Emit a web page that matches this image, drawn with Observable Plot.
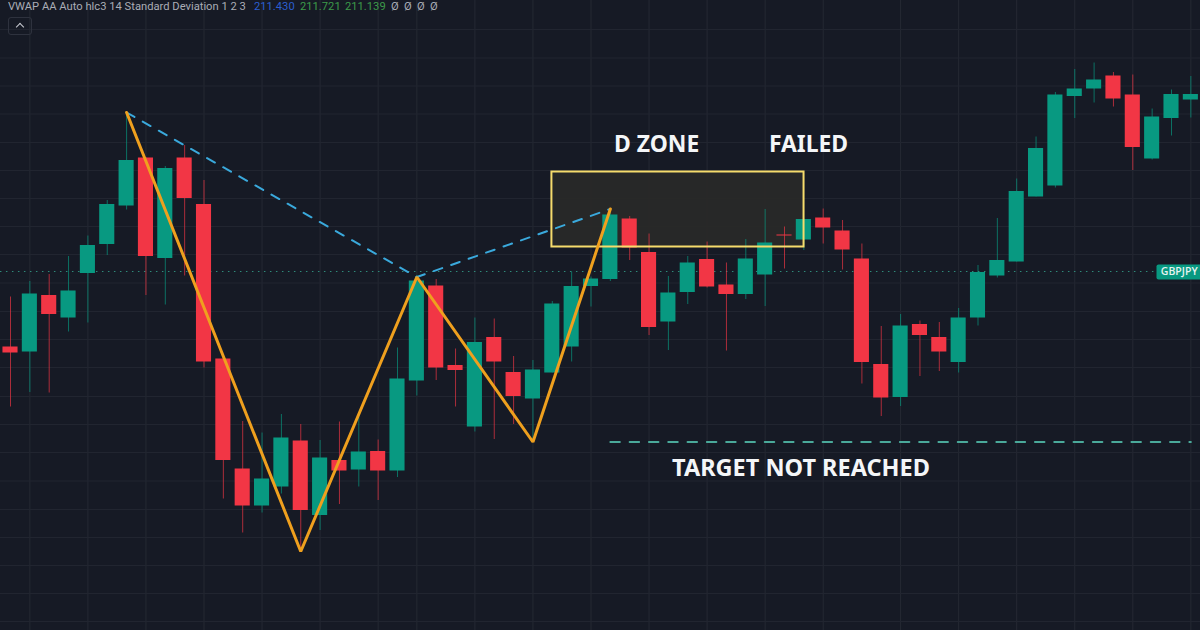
<!DOCTYPE html>
<html>
<head>
<meta charset="utf-8">
<script src="https://cdn.jsdelivr.net/npm/d3@7"></script>
<script src="https://cdn.jsdelivr.net/npm/@observablehq/plot@0.6"></script>
<style>
html,body{margin:0;padding:0;background:#161a25;overflow:hidden;width:1200px;height:630px}
#chart{position:relative;width:1200px;height:630px}
#chart svg{display:block}
.hd{position:absolute;top:0;font:11.2px Roboto,sans-serif;white-space:nowrap;line-height:normal;opacity:.95}
#btn{position:absolute;left:8px;top:17px;width:24px;height:18px;border:1px solid #2e323e;border-radius:3px;box-sizing:border-box}
#btn:after{content:"";position:absolute;left:8px;top:6px;width:5px;height:5px;border-left:1.5px solid #c8cbd2;border-top:1.5px solid #c8cbd2;transform:rotate(45deg)}
</style>
</head>
<body>
<div id="chart"></div>
<script>
const opens = [209.92,209.82,210.95,210.50,211.39,211.97,212.74,213.70,211.69,213.70,212.77,209.68,207.48,206.74,207.12,208.04,206.55,207.65,207.46,207.83,207.44,209.24,211.14,209.55,208.32,210.11,209.41,208.88,209.40,209.92,211.13,211.27,212.48,211.81,210.42,211.01,211.67,211.16,210.97,211.36,212.16,212.06,212.50,212.24,211.68,209.57,208.91,210.37,210.11,209.61,210.50,211.34,211.62,212.92,213.14,214.93,215.08,215.34,214.96,213.68,214.49,214.86];
const highs = [210.92,211.23,211.37,211.73,212.14,212.85,214.60,213.71,213.53,213.95,213.25,209.69,208.43,208.20,208.57,208.37,208.05,208.42,208.52,208.06,209.90,211.35,211.27,209.88,210.50,210.48,209.73,209.65,210.83,211.42,211.32,212.69,212.53,212.18,211.33,211.73,212.02,211.60,212.07,212.67,212.32,212.48,212.68,212.45,211.98,210.33,210.57,210.44,210.41,210.69,211.55,212.49,213.28,214.12,215.01,215.47,215.60,215.41,215.36,214.68,215.06,215.33];
const lows = [208.72,209.01,209.00,210.22,210.40,211.75,212.66,210.95,210.76,211.34,209.50,206.88,206.20,206.60,206.98,205.82,206.25,206.77,207.12,206.85,207.31,208.94,209.25,208.72,208.22,208.07,208.37,208.02,209.40,209.62,210.72,211.23,211.65,210.15,209.85,210.77,211.10,209.84,210.87,210.73,211.48,211.85,211.98,211.46,209.18,208.53,208.73,209.33,209.43,209.40,210.34,211.30,211.62,212.92,213.10,214.49,214.80,214.72,213.45,213.66,214.14,214.50];
const closes = [209.80,210.98,210.57,211.04,211.95,212.77,213.65,211.73,213.49,212.89,209.62,207.65,206.74,207.28,208.10,206.65,207.70,207.44,207.82,207.44,209.28,211.24,209.50,209.45,210.01,209.62,208.93,209.46,210.78,211.13,211.28,212.56,211.90,210.31,211.00,211.60,211.12,210.97,211.68,212.00,212.14,212.47,212.30,211.86,209.61,208.90,210.34,210.15,209.82,210.50,211.41,211.65,213.03,213.89,214.96,215.08,215.26,214.88,213.91,214.52,214.97,214.97];

const gridBars = [1,4,7,10,13,16,19,21,24,27,30,33,36,39,42,46,49,52,55,58,61];
const gridPrices = [216.27,215.70,215.14,214.58,214.01,213.45,212.89,212.33,211.77,211.20,210.63,210.07,209.51,208.93,208.37,207.81,207.24,206.67,206.11,205.55,204.99,204.43];

const zigzagBars = [6,15,21,27,31];
const zigzagPrices = [214.61,205.83,211.32,208.02,212.68];
const trendBars = [6,21,31];
const trendPrices = [214.61,211.32,212.68];

const zoneBars = [27.98,41.01];
const zonePrices = [213.42,211.92];
const targetBars = [31,61];
const targetPrice = 208.02;
const lastPrice = 211.43;

const labelTexts = ["D ZONE","FAILED","TARGET NOT REACHED"];
const labelBars = [33.39,41.24,40.85];
const labelPrices = [213.97,213.97,207.49];

const GREEN = "#089981", RED = "#f23645";
const candles = opens.map((o,i)=>({i,o,h:highs[i],l:lows[i],c:closes[i],col:closes[i]>=o?GREEN:RED}));
const pts = (xs,ys)=>xs.map((x,k)=>({x,y:ys[k]}));
const labels = labelTexts.map((t,k)=>({t,x:labelBars[k],y:labelPrices[k]}));
const halfBody = 0.39;
const shortLabels = labels.slice(0,2), longLabels = labels.slice(2);
const labelStyle = {x:"x",y:"y",text:"t",fill:"#f4f6f8",fontWeight:700,fontFamily:"'Noto Sans',sans-serif"};

const chart = Plot.plot({
  width:1200,height:630,margin:0,
  style:{background:"#161a25"},
  x:{type:"linear",domain:[-10/19.35,1190/19.35],range:[0,1200],axis:null},
  y:{type:"linear",domain:[216.85,204.25],range:[0,630],axis:null},
  marks:[
    Plot.ruleX(gridBars,{x:d=>d,stroke:"#252933",strokeWidth:1}),
    Plot.ruleY(gridPrices,{y:d=>d,stroke:"#212530",strokeWidth:1}),
    Plot.ruleY([lastPrice],{y:d=>d,x1:-0.52,x2:59.3,stroke:"#2f8a7a",strokeWidth:1,strokeDasharray:"1.5,4.5"}),
    Plot.rect([0],{x1:zoneBars[0],x2:zoneBars[1],y1:zonePrices[0],y2:zonePrices[1],fill:"#292928",fillOpacity:0.92}),
    Plot.ruleX(candles,{x:"i",y1:"l",y2:"h",stroke:"col",strokeWidth:1,strokeOpacity:0.68}),
    Plot.rect(candles,{x1:d=>d.i-halfBody,x2:d=>d.i+halfBody,y1:"o",y2:"c",fill:"col"}),
    Plot.rect([0],{x1:zoneBars[0],x2:zoneBars[1],y1:zonePrices[0],y2:zonePrices[1],fill:"none",stroke:"#f6dc6c",strokeWidth:2}),
    Plot.line(pts(trendBars,trendPrices),{x:"x",y:"y",stroke:"#3aa9dc",strokeWidth:2,strokeDasharray:"9,9.5"}),
    Plot.line(pts(zigzagBars,zigzagPrices),{x:"x",y:"y",stroke:"#efa01e",strokeWidth:3,strokeLinejoin:"miter"}),
    Plot.line(pts(targetBars,[targetPrice,targetPrice]),{x:"x",y:"y",stroke:"#4aa99a",strokeWidth:2,strokeDasharray:"9.5,9.8"}),
    Plot.text(shortLabels,{...labelStyle,fontSize:22.9}),
    Plot.text(longLabels,{...labelStyle,fontSize:23.5}),
    Plot.rect([0],{x1:59.25,x2:61.6,y1:211.56,y2:211.26,fill:GREEN,rx:2}),
    Plot.text(["GBPJPY"],{x:60.4,y:211.42,fill:"#e6f4f1",fontSize:10.5,fontWeight:600,fontFamily:"'Open Sans',sans-serif"})
  ]
});
const root = document.getElementById("chart");
root.appendChild(chart);

const header = [
  ["VWAP AA Auto hlc3 14 Standard Deviation 1 2 3",8,"#b2b5be"],
  ["211.430",254,"#2d62d8"],["211.721",300,"#3fa04c"],["211.139",345,"#3fa04c"],
  ["\u00d8",391,"#b2b5be"],["\u00d8",404,"#b2b5be"],["\u00d8",417,"#b2b5be"],["\u00d8",430,"#b2b5be"]
];
header.forEach(([t,x,c])=>{
  const s=document.createElement("span");s.className="hd";s.textContent=t;s.style.left=x+"px";s.style.color=c;root.appendChild(s);
});
const b=document.createElement("div");b.id="btn";root.appendChild(b);
</script>
</body>
</html>
